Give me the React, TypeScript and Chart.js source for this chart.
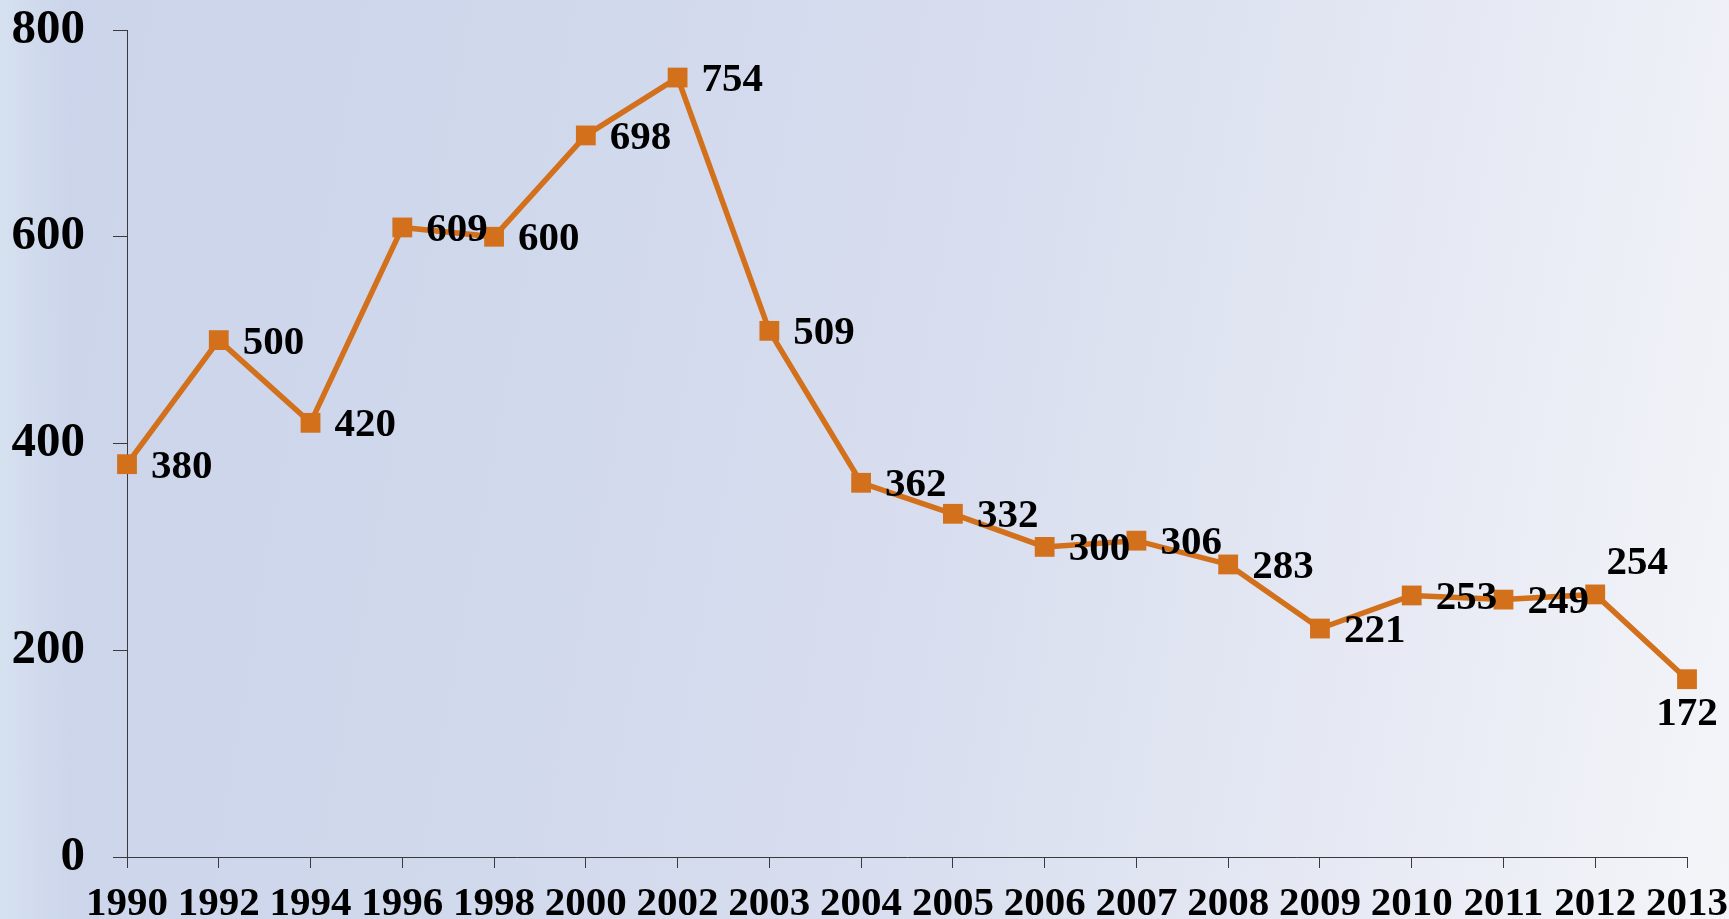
import { useEffect, useRef } from "react";
import { Chart, registerables } from "chart.js";

Chart.register(...registerables);

// Years on the horizontal axis
const years = [
  "1990", "1992", "1994", "1996", "1998", "2000", "2002", "2003", "2004",
  "2005", "2006", "2007", "2008", "2009", "2010", "2011", "2012", "2013",
];

// Yearly values
const values = [
  380, 500, 420, 609, 600, 698, 754, 509, 362,
  332, 300, 306, 283, 221, 253, 249, 254, 172,
];

// Where each value label sits relative to its point
const labelSides = [
  "right", "right", "right", "right", "right", "right", "right", "right", "right",
  "right", "right", "right", "right", "right", "right", "right", "above", "below",
];

const yMin = 0;
const yMax = 800;
const yStep = 200;

const LINE_COLOR = "#D2701C";
const SERIF = "'Liberation Serif', 'Times New Roman', serif";

const valueLabels = {
  id: "valueLabels",
  afterDatasetsDraw(chart: any) {
    const meta = chart.getDatasetMeta(0);
    const ctx = chart.ctx;
    ctx.save();
    ctx.font = `bold 41px ${SERIF}`;
    ctx.fillStyle = "#000";
    ctx.textBaseline = "middle";
    meta.data.forEach((pt: any, i: number) => {
      const side = labelSides[i];
      const text = String(values[i]);
      if (side === "above") {
        ctx.textAlign = "center";
        ctx.fillText(text, pt.x + 42, pt.y - 31);
      } else if (side === "below") {
        ctx.textAlign = "center";
        ctx.fillText(text, pt.x, pt.y + 35);
      } else {
        ctx.textAlign = "left";
        ctx.fillText(text, pt.x + 24, pt.y + 3);
      }
    });
    ctx.restore();
  },
};

export default function App() {
  const canvasRef = useRef<HTMLCanvasElement | null>(null);

  useEffect(() => {
    const canvas = canvasRef.current;
    if (!canvas) return;
    const chart = new Chart(canvas, {
      type: "line",
      data: {
        labels: years,
        datasets: [
          {
            data: values,
            borderColor: LINE_COLOR,
            backgroundColor: LINE_COLOR,
            borderWidth: 5.5,
            pointStyle: "rect",
            pointRadius: 14,
            pointHoverRadius: 14,
            pointBackgroundColor: LINE_COLOR,
            pointBorderWidth: 0,
            tension: 0,
            clip: false,
          },
        ],
      },
      options: {
        responsive: false,
        animation: false,
        devicePixelRatio: 1,
        layout: { padding: { top: 30, right: 42, left: 0, bottom: 0 } },
        plugins: {
          legend: { display: false },
          tooltip: { enabled: false },
        },
        scales: {
          x: {
            type: "category",
            offset: false,
            grid: {
              drawOnChartArea: false,
              drawTicks: true,
              tickLength: 11,
              color: "#3a3a3a",
            },
            border: { color: "#3a3a3a", width: 1 },
            ticks: {
              color: "#000",
              font: { family: SERIF, weight: "bold", size: 41 },
              padding: 12,
              maxRotation: 0,
              autoSkip: false,
            },
            afterFit: (s: any) => {
              s.height = 62;
              s.paddingLeft = 0;
              s.paddingRight = 0;
            },
          },
          y: {
            min: yMin,
            max: yMax,
            grid: {
              drawOnChartArea: false,
              drawTicks: true,
              tickLength: 14,
              color: "#3a3a3a",
            },
            border: { color: "#3a3a3a", width: 1 },
            ticks: {
              stepSize: yStep,
              color: "#000",
              font: { family: SERIF, weight: "bold", size: 49 },
              padding: 28,
            },
            afterFit: (s: any) => {
              s.width = 127;
              s.paddingTop = 0;
              s.paddingBottom = 0;
            },
          },
        },
      },
      plugins: [valueLabels],
    });
    return () => chart.destroy();
  }, []);

  return (
    <div
      style={{
        position: "fixed",
        inset: 0,
        overflow: "hidden",
        background:
          "linear-gradient(to right, rgba(218,230,242,0.7) 0px, rgba(218,230,242,0) 70px), " +
          "linear-gradient(100deg, #cbd4ea 0%, #d0d8ec 30%, #d8deef 55%, #e7eaf4 80%, #f4f5f9 100%)",
      }}
    >
      <canvas ref={canvasRef} width={1729} height={919} style={{ display: "block" }} />
    </div>
  );
}
